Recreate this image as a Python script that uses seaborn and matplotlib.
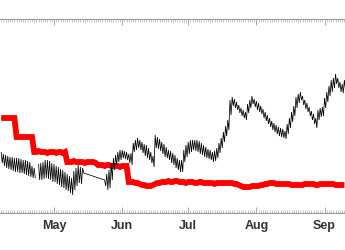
import numpy as np
import pandas as pd
import matplotlib
matplotlib.use("Agg")
import matplotlib.pyplot as plt
import matplotlib.dates as mdates
import seaborn as sns

sns.set_style("white")
plt.rcParams["font.family"] = ["Liberation Sans", "DejaVu Sans"]

nan = np.nan
start_date = "2014-04-07"
n_days = 157

# black series: daily high / low (arbitrary units)
black_hi = [61, 59, 58, 57, 56, 56, 55, 55, 55, 54,
            53, 53, 52, 51, 47, 45, nan, 49, 50, 51,
            53, 53, 52, 50, 49, 47, 46, 44, 43, 41,
            39, 37, 35, 42, 45, 48, 46, 45, nan, nan,
            nan, nan, nan, nan, nan, nan, nan, 33, 39, 43,
            50, 55, 58, 61, 63, 63, 62, 61, 59, 60,
            70, 73, 75, 73, 71, 69, 68, 65, 61, 57,
            78, 76, 74, 71, 69, 66, 63, 62, 60, 58,
            55, 53, 53, 63, 68, 71, 73, 73, 73, 73,
            72, 70, 68, 66, 64, 63, 61, 62, 65, 70,
            75, 81, 87, 93, 113, 116, 114, 111, 108, 105,
            103, 101, 109, 113, 117, 114, 112, 110, 107, 104,
            101, 98, 95, 92, 90, 88, 86, 85, 84, 82,
            89, 95, 101, 107, 116, 119, 121, 117, 113, 110,
            106, 102, 99, 95, 103, 105, 106, 115, 121, 127,
            133, 135, 139, 135, 131, 129, 133]
black_lo = [50, 47, 45, 44, 43, 42, 41, 41, 40, 40,
            39, 38, 37, 36, 35, 35, nan, 33, 33, 34,
            35, 34, 33, 31, 31, 29, 28, 26, 25, 23,
            22, 20, 18, 23, 27, 30, 29, 40, nan, nan,
            nan, nan, nan, nan, nan, nan, nan, 27, 23, 25,
            33, 43, 48, 51, 53, 55, 54, 53, 50, 48,
            61, 63, 65, 63, 60, 57, 55, 53, 50, 46,
            65, 64, 62, 59, 56, 55, 53, 50, 48, 45,
            43, 41, 41, 51, 56, 59, 61, 63, 62, 61,
            59, 58, 56, 55, 54, 53, 51, 52, 55, 60,
            65, 71, 77, 83, 98, 107, 105, 103, 100, 97,
            95, 93, 100, 105, 109, 106, 103, 101, 99, 95,
            92, 89, 86, 83, 81, 79, 77, 76, 75, 74,
            79, 85, 91, 97, 105, 110, 113, 108, 104, 101,
            97, 93, 89, 85, 93, 96, 97, 105, 111, 117,
            121, 125, 129, 125, 121, 120, 123]
# day index where the black series restarts after a break
black_break = 17

# red series: daily level
red = ([95] * 7 + [76] * 8 +
       [61, 61, 62, 61, 61, 61, 60, 61, 61, 61, 60, 61, 61, 60, 61] +
       [51, 51, 51, 52, 51, 51, 51, 51, 50, 51, 51, 51, 51, 50] +
       [48, 48, 48, 47, 48, 48, 47, 47, 47, 47, 46, 47, 47, 47] +
       [31, 31, 31, 30, 30, 29, 28, 28, 27, 27,
        27, 28, 29, 30, 30, 31, 31, 31, 32, 31,
        31, 32, 32, 31, 31, 31, 30, 31, 31, 31,
        30, 30, 31, 31, 30, 30, 30, 30, 30, 29,
        30, 30, 30, 30, 30, 30, 30, 30, 29, 29,
        28, 27, 26, 26, 26, 26, 27, 27, 27, 27,
        28, 28, 29, 29, 30, 30, 30, 29, 29, 29,
        29, 29, 29, 29, 28, 28, 28, 28, 28, 28,
        29, 29, 29, 29, 29, 28, 28, 29, 29, 29,
        29, 29, 29, 29, 28, 28, 28, 28, 28])

days = pd.date_range(start_date, periods=n_days, freq="D")

rows = []
for i, d in enumerate(days):
    hi, lo = black_hi[i], black_lo[i]
    if np.isnan(hi):
        continue
    seg = 1 if i < black_break else 2
    rows.append((d, hi, seg))
    rows.append((d + pd.Timedelta(hours=12), lo, seg))
bdf = pd.DataFrame(rows, columns=["t", "v", "seg"])
rdf = pd.DataFrame({"t": days, "v": red})

fig = plt.figure(figsize=(3.45, 2.5), dpi=100)
ax = fig.add_axes([0, 37 / 250, 1, 194 / 250])

sns.lineplot(data=rdf, x="t", y="v", color="#ff0000", lw=4.2, ax=ax, zorder=2)
sns.lineplot(data=bdf, x="t", y="v", units="seg", estimator=None, sort=False,
             color="black", lw=0.55, ax=ax, zorder=3)
for ln in ax.lines:
    ln.set_solid_joinstyle("miter")
    ln.set_solid_capstyle("butt")

ax.set_ylim(0, 194)
ax.set_xlim(days[0] - pd.Timedelta(hours=13), days[-1] + pd.Timedelta(hours=7))
ax.set_yticks([])
ax.set_xlabel("")
ax.set_ylabel("")
for s in ["left", "right"]:
    ax.spines[s].set_visible(False)
for s in ["top", "bottom"]:
    ax.spines[s].set_color("#9a9a9a")
    ax.spines[s].set_linewidth(0.8)

ax.xaxis.set_major_locator(mdates.MonthLocator())
ax.xaxis.set_major_formatter(mdates.DateFormatter("%b"))
ax.xaxis.set_minor_locator(mdates.DayLocator())
ax.tick_params(axis="x", which="both", direction="in", top=True, bottom=True,
               colors="#9a9a9a", labelcolor="#333333")
ax.tick_params(axis="x", which="major", length=4, width=0.6, pad=5, labelsize=9)
ax.tick_params(axis="x", which="minor", length=2, width=0.4)
for lab in ax.get_xticklabels():
    lab.set_fontweight("bold")

fig.savefig("out.png", dpi=100)
